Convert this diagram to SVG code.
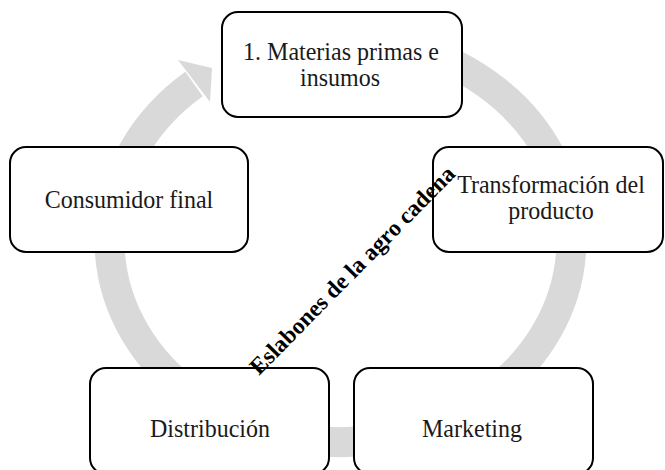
<svg xmlns="http://www.w3.org/2000/svg" width="665" height="470" viewBox="0 0 665 470">
<style>
.node rect{fill:#fff;stroke:#000;stroke-width:2}
.lbl{font-family:"Liberation Serif","Times New Roman",serif;font-size:24px;fill:#1a1a1a;text-anchor:middle}
.ring{fill:none;stroke:#d9d9d9;stroke-width:30}
.diag{font-family:"Liberation Serif","Times New Roman",serif;font-size:23.5px;font-weight:bold;fill:#000;text-anchor:middle}
</style>
<rect width="665" height="470" fill="#fff"/>
<g id="connectors">
<path class="ring" d="M 400 45 A 231 202 0 1 1 194 84"/>
<polygon points="178,60 212,68 210,102" fill="#d9d9d9"/>
</g>
<g id="node1" class="node">
<rect x="222" y="12" width="240" height="105" rx="16"/>
<text class="lbl" transform="translate(341,60) scale(1,1.06)">1. Materias primas e</text>
<text class="lbl" transform="translate(340,86) scale(1,1.06)">insumos</text>
</g>
<g id="node2" class="node">
<rect x="433" y="147" width="230" height="105" rx="16"/>
<text class="lbl" transform="translate(551,193) scale(1,1.06)">Transformación del</text>
<text class="lbl" transform="translate(551,219) scale(1,1.06)">producto</text>
</g>
<g id="node3" class="node">
<rect x="354" y="368" width="239" height="106" rx="16"/>
<text class="lbl" transform="translate(472,437) scale(1,1.06)">Marketing</text>
</g>
<g id="node4" class="node">
<rect x="90" y="368" width="239" height="106" rx="16"/>
<text class="lbl" transform="translate(210,437) scale(1,1.06)">Distribución</text>
</g>
<g id="node5" class="node">
<rect x="10" y="147" width="238" height="105" rx="16"/>
<text class="lbl" transform="translate(129,208) scale(1,1.06)">Consumidor final</text>
</g>
<text class="diag" transform="translate(352,270) rotate(-45.5)" x="0" y="8">Eslabones de la agro cadena</text>
</svg>
